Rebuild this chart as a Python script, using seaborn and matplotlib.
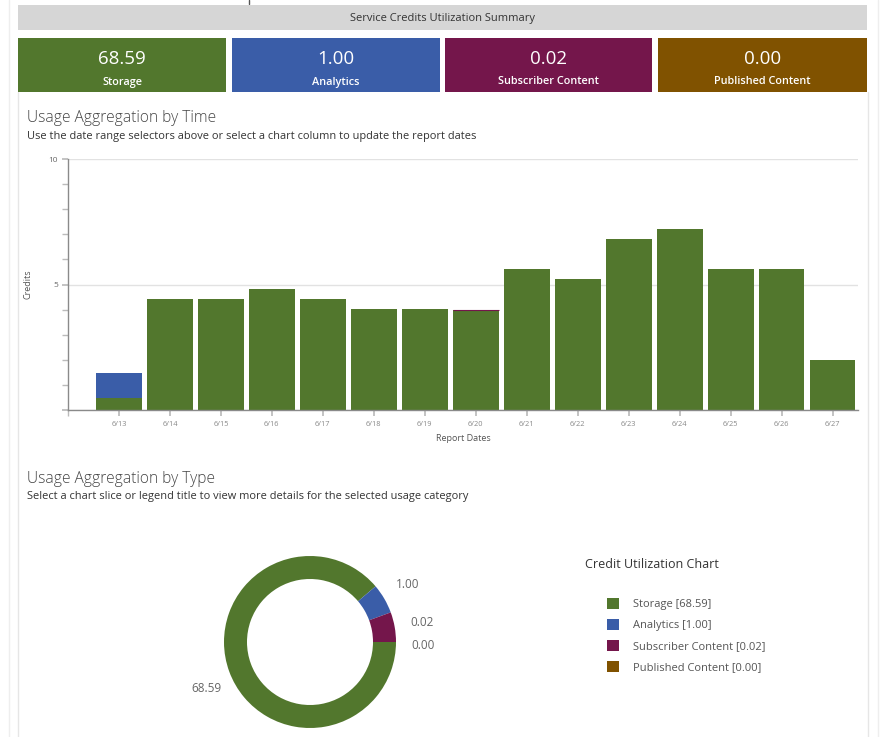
import numpy as np
import pandas as pd
import matplotlib
matplotlib.use("Agg")
import matplotlib.pyplot as plt
import seaborn as sns
from matplotlib.patches import Rectangle, Patch
from matplotlib.lines import Line2D

# ---------------- data ----------------
categories = ["Storage", "Analytics", "Subscriber Content", "Published Content"]
totals = [68.59, 1.00, 0.02, 0.00]
colors = ["#52772D", "#3A5DA8", "#74164B", "#805200"]

dates = ["6/13", "6/14", "6/15", "6/16", "6/17", "6/18", "6/19", "6/20",
         "6/21", "6/22", "6/23", "6/24", "6/25", "6/26", "6/27"]
storage = [0.46, 4.42, 4.42, 4.82, 4.42, 4.02, 4.02, 3.98, 5.60, 5.22, 6.81, 7.21, 5.60, 5.60, 1.99]
analytics = [1.00, 0, 0, 0, 0, 0, 0, 0, 0, 0, 0, 0, 0, 0, 0]
subscriber = [0, 0, 0, 0, 0, 0, 0, 0.02, 0, 0, 0, 0, 0, 0, 0]
published = [0, 0, 0, 0, 0, 0, 0, 0, 0, 0, 0, 0, 0, 0, 0]
series = [storage, analytics, subscriber, published]

y_ticks = [0, 5, 10]
y_ticklabels = ["", "5", "10"]

# ---------------- setup ----------------
W, H = 893, 737
sns.set_theme(style="white")
plt.rcParams["font.family"] = ["Open Sans", "DejaVu Sans"]

fig = plt.figure(figsize=(W / 100, H / 100), dpi=100)
fig.patch.set_facecolor("white")


def fx(x):
    return x / W


def fy(y):
    return 1 - y / H


def rect(x0, y0, x1, y1, color, z=0):
    fig.add_artist(Rectangle((fx(x0), fy(y1)), (x1 - x0) / W, (y1 - y0) / H,
                             transform=fig.transFigure, facecolor=color,
                             edgecolor="none", zorder=z))


def vline(x, y0, y1, color="#e8e8e8"):
    fig.add_artist(Line2D([fx(x), fx(x)], [fy(y0), fy(y1)], transform=fig.transFigure,
                          color=color, linewidth=1, zorder=0))


# faint panel borders
vline(9, 0, 737, "#eeeeee")
vline(18, 92, 737, "#e6e6e6")
vline(868, 92, 737, "#e6e6e6")
vline(878, 0, 737, "#eeeeee")
vline(249, 0, 4, "#555555")

# header
rect(18, 5, 867, 30, "#d6d6d6")
fig.text(fx(442), fy(18), "Service Credits Utilization Summary", ha="center", va="center",
         fontsize=8, color="#333333")

# tiles
tile_x = [(18, 226), (232, 440), (445, 652), (658, 867)]
for (x0, x1), cat, val, col in zip(tile_x, categories, totals, colors):
    rect(x0, 38, x1, 92, col)
    cx = (x0 + x1) / 2
    fig.text(fx(cx), fy(59), f"{val:.2f}", ha="center", va="center", fontsize=13.5, color="white")
    fig.text(fx(cx), fy(82), cat, ha="center", va="center", fontsize=7.8, color="white",
             fontweight="semibold")

# section titles
fig.text(fx(27), fy(118), "Usage Aggregation by Time", ha="left", va="center",
         fontsize=11.2, color="#444444", fontweight="light")
fig.text(fx(27), fy(136), "Use the date range selectors above or select a chart column to update the report dates",
         ha="left", va="center", fontsize=7.9, color="#333333")
fig.text(fx(27), fy(479), "Usage Aggregation by Type", ha="left", va="center",
         fontsize=11.2, color="#444444", fontweight="light")
fig.text(fx(27), fy(496), "Select a chart slice or legend title to view more details for the selected usage category",
         ha="left", va="center", fontsize=7.9, color="#333333")

# ---------------- bar chart ----------------
ax = fig.add_axes([fx(68), fy(410), (858 - 68) / W, (410 - 159) / H])
ax.set_facecolor("white")
bottom = np.zeros(len(dates))
for cat, vals, col in zip(categories, series, colors):
    vals = np.array(vals, dtype=float)
    mask = vals > 0
    if mask.any():
        sub = pd.DataFrame({"date": np.array(dates)[mask], "credits": vals[mask]})
        sns.barplot(data=sub, x="date", y="credits", order=dates, color=col, width=0.9,
                    saturation=1, errorbar=None, bottom=bottom[mask], ax=ax,
                    linewidth=0.8 if cat == "Subscriber Content" else 0,
                    edgecolor=col)
    bottom = bottom + vals

ax.set_xlim(-1, len(dates) - 0.5)
ax.set_ylim(0, 10)
ax.set_yticks(y_ticks)
ax.set_yticklabels(y_ticklabels)
ax.set_yticks(np.arange(0, 11, 1), minor=True)
ax.set_xticks(range(len(dates)))
ax.set_xticklabels(dates)
ax.set_xticks([-1], minor=True)
ax.grid(axis="y", which="major", color="#e2e2e2", linewidth=1)
ax.set_axisbelow(True)
for s in ["top", "right"]:
    ax.spines[s].set_visible(False)
for s in ["left", "bottom"]:
    ax.spines[s].set_color("#8a8a8a")
    ax.spines[s].set_linewidth(1)
ax.tick_params(axis="x", which="both", length=4, color="#bbbbbb", labelsize=5.3,
               labelcolor="#888888", pad=4, bottom=True)
ax.tick_params(axis="y", which="both", length=4, color="#bbbbbb", labelsize=6,
               labelcolor="#666666", pad=3, left=True)
ax.set_xlabel("Report Dates", fontsize=6.5, color="#555555", labelpad=4)
ax.set_ylabel("Credits", fontsize=6.5, color="#555555", labelpad=12)

# ---------------- donut ----------------
cx, cy, R, ring = 310, 642, 86, 23
dax = fig.add_axes([fx(cx - R), fy(cy + R), 2 * R / W, 2 * R / H])
vals = np.array(totals, dtype=float)
share = vals / vals.sum()
min_share = 0.056
disp = np.where((vals > 0) & (share < min_share), min_share, share)
disp[np.argmax(vals)] -= disp.sum() - 1
wedges, _ = dax.pie(disp, colors=colors, startangle=0, counterclock=False,
                    wedgeprops=dict(width=ring / R, linewidth=0))
dax.set_xlim(-1, 1)
dax.set_ylim(-1, 1)
dax.set_aspect("equal")
major_label_angle = 204
for i, (w, v) in enumerate(zip(wedges, totals)):
    ang = major_label_angle if i == int(np.argmax(vals)) else (w.theta1 + w.theta2) / 2
    if v == 0:
        ang -= 2
    r = 1.32
    dax.text(r * np.cos(np.radians(ang)), r * np.sin(np.radians(ang)), f"{v:.2f}",
             ha="center", va="center", fontsize=8.5, color="#666666")

# legend
fig.text(fx(585), fy(565), "Credit Utilization Chart", ha="left", va="center",
         fontsize=9, color="#333333")
handles = [Patch(facecolor=c, edgecolor="none") for c in colors]
labels = [f"{c} [{v:.2f}]" for c, v in zip(categories, totals)]
fig.legend(handles, labels, loc="upper left", bbox_to_anchor=(fx(607), fy(598)),
           frameon=False, fontsize=8, handlelength=1.1, handleheight=1.1,
           handletextpad=1.2, labelspacing=0.8, borderpad=0, borderaxespad=0,
           labelcolor="#555555")

fig.savefig("out.png", dpi=100, facecolor="white")
